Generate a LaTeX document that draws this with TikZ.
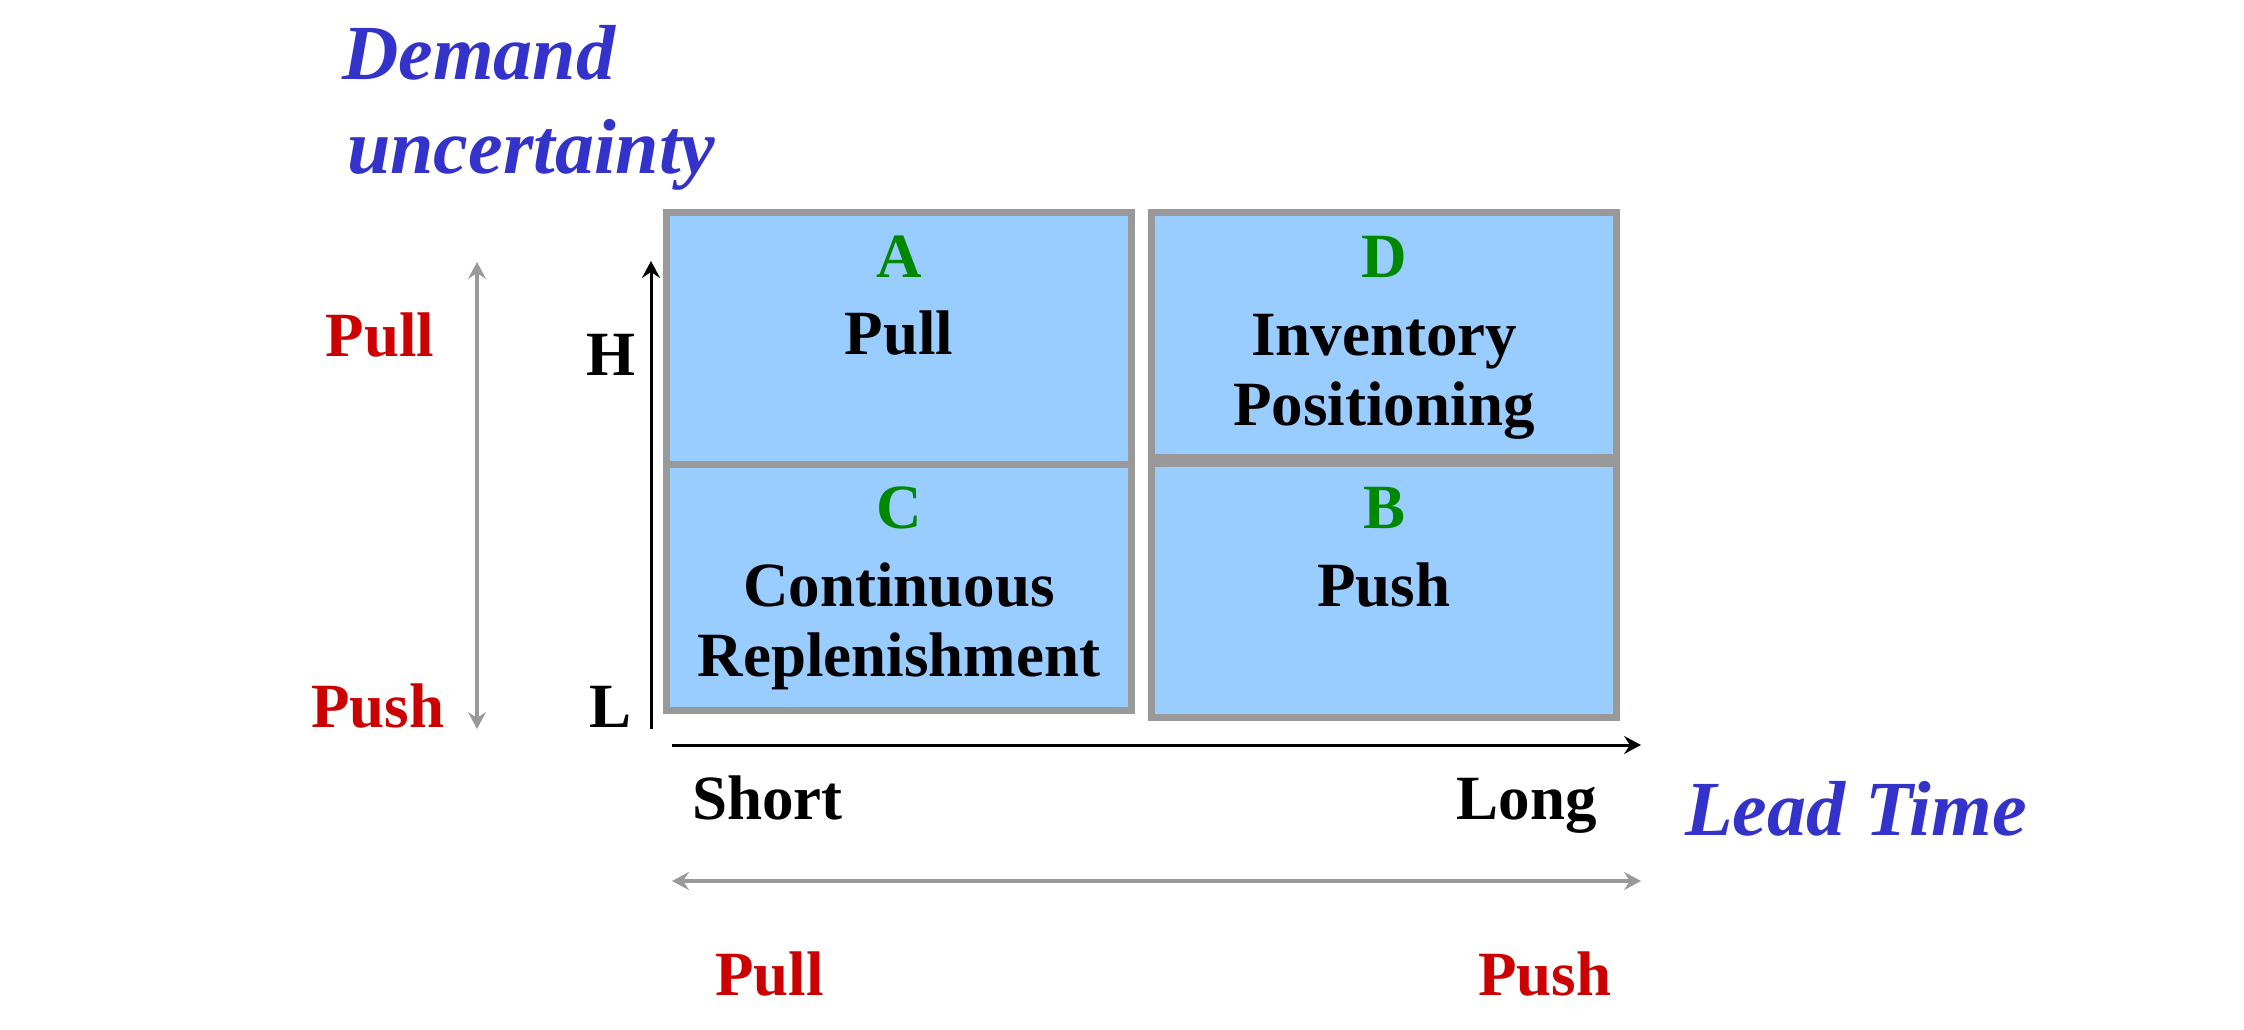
\documentclass[tikz,border=0pt]{standalone}
\usepackage{fontspec}
\setmainfont{Liberation Serif}
\usetikzlibrary{arrows.meta}
\definecolor{cellblue}{HTML}{99CCFF}
\definecolor{cellgray}{HTML}{999999}
\definecolor{titleblue}{HTML}{3333CC}
\definecolor{pushred}{HTML}{CC0000}
\definecolor{lettergreen}{HTML}{008800}
\begin{document}
\begin{tikzpicture}[x=1pt,y=-1pt,
  cell/.style={draw=cellgray, fill=cellblue, line width=7pt},
  txt/.style={font=\fontsize{63}{70}\selectfont\bfseries, anchor=base, inner sep=0pt},
  letter/.style={txt, text=lettergreen},
  redtxt/.style={txt, text=pushred},
  title/.style={font=\fontsize{78}{86}\selectfont\bfseries\itshape, text=titleblue, anchor=base west, inner sep=0pt},
  mytip/.tip={Stealth[length=17pt,width=18pt,inset=6pt]},
  blackarrow/.style={line width=3pt, black, -{mytip}},
  grayarrow/.style={line width=3.5pt, cellgray, {mytip}-{mytip}}
]
\useasboundingbox (0,0) rectangle (2244,1030);
% cells
\draw[cell] (666.5,212.5) rectangle (1131.5,464);
\draw[cell] (666.5,464) rectangle (1131.5,710.5);
\draw[cell] (1151.5,212.5) rectangle (1616.5,457);
\draw[cell] (1151.5,463.5) rectangle (1616.5,717.5);
% cell texts
\node[letter] (lA) at (899,277) {A};
\node[txt] (tA) at (899,354) {Pull};
\node[letter] (lD) at (1384,277) {D};
\node[txt] (tD1) at (1384,355) {Inventory};
\node[txt] (tD2) at (1384,425) {Positioning};
\node[letter] (lC) at (899,528) {C};
\node[txt] (tC1) at (899,606) {Continuous};
\node[txt] (tC2) at (899,676) {Replenishment};
\node[letter] (lB) at (1384,528) {B};
\node[txt] (tB) at (1384,606) {Push};
% titles
\node[title] (dem1) at (342,80) {Demand};
\node[title] (dem2) at (347,173) {uncertainty};
\node[title] (lead) at (1685,835) {Lead Time};
% axis labels
\node[redtxt] (lpull) at (380,356) {Pull};
\node[redtxt] (lpush) at (378,727) {Push};
\node[txt] (H) at (611,375) {H};
\node[txt] (L) at (611,727) {L};
\node[txt, anchor=base west] (short) at (692,819) {Short};
\node[txt, anchor=base east] (long) at (1597,819) {Long};
\node[redtxt, anchor=base west] (bpull) at (715,995) {Pull};
\node[redtxt, anchor=base west] (bpush) at (1478,995) {Push};
% arrow end points
\coordinate (gv1) at (477,729);
\coordinate (gv2) at (477,262);
\coordinate (bv1) at (651,729);
\coordinate (bv2) at (651,261);
\coordinate (bh1) at (672,745);
\coordinate (bh2) at (1641,745);
\coordinate (gh1) at (672,881);
\coordinate (gh2) at (1641,881);
\draw[grayarrow] (gv1) -- (gv2);
\draw[blackarrow] (bv1) -- (bv2);
\draw[blackarrow] (bh1) -- (bh2);
\draw[grayarrow] (gh1) -- (gh2);
\end{tikzpicture}
\end{document}
